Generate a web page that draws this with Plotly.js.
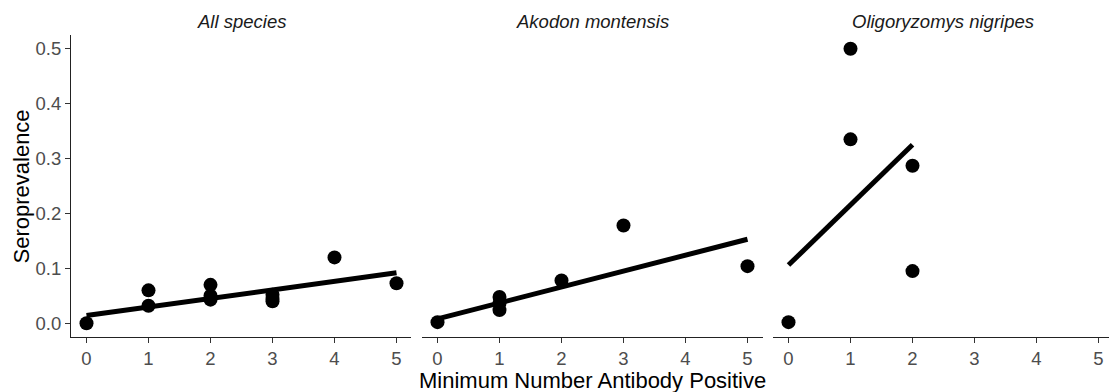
<!DOCTYPE html>
<html>
<head>
<meta charset="utf-8">
<script src="https://cdn.plot.ly/plotly-3.0.1.min.js"></script>
<style>
  html, body { margin: 0; padding: 0; background: #ffffff; }
  #chart { width: 1109px; height: 392px; }
</style>
</head>
<body>
<div id="chart"></div>
<script>
// Facet labels
const panelNames = ["All species", "Akodon montensis", "Oligoryzomys nigripes"];

// All species: observed seroprevalence by minimum antibody-positive count
const allX = [0, 1, 1, 2, 2, 2, 3, 3, 3, 4, 5];
const allY = [0.000, 0.060, 0.032, 0.070, 0.050, 0.043, 0.052, 0.046, 0.040, 0.120, 0.073];
const allFitX = [0, 5];
const allFitY = [0.014, 0.092];

// Akodon montensis
const akoX = [0, 1, 1, 1, 2, 3, 5];
const akoY = [0.002, 0.048, 0.036, 0.024, 0.078, 0.178, 0.104];
const akoFitX = [0, 5];
const akoFitY = [0.008, 0.153];

// Oligoryzomys nigripes
const oliX = [0, 1, 1, 2, 2];
const oliY = [0.002, 0.500, 0.335, 0.287, 0.095];
const oliFitX = [0, 2];
const oliFitY = [0.106, 0.325];

const xTicks = [0, 1, 2, 3, 4, 5];
const yTicks = [0.0, 0.1, 0.2, 0.3, 0.4, 0.5];

const W = 1109, H = 392;
const FONT = "Liberation Sans, Arial, sans-serif";

const series = [
  {x: allX, y: allY, fx: allFitX, fy: allFitY},
  {x: akoX, y: akoY, fx: akoFitX, fy: akoFitY},
  {x: oliX, y: oliY, fx: oliFitX, fy: oliFitY}
];

const traces = [];
series.forEach((s, i) => {
  const xa = i === 0 ? "x" : "x" + (i + 1);
  const ya = i === 0 ? "y" : "y" + (i + 1);
  traces.push({
    type: "scatter", mode: "markers", x: s.x, y: s.y, xaxis: xa, yaxis: ya,
    marker: {color: "#000000", size: 14}, hoverinfo: "x+y", showlegend: false
  });
  traces.push({
    type: "scatter", mode: "lines", x: s.fx, y: s.fy, xaxis: xa, yaxis: ya,
    line: {color: "#000000", width: 5}, hoverinfo: "skip", showlegend: false
  });
});

// Panel extents in pixels
const panels = [[71, 411], [422, 763], [773, 1109]];
const pxPerUnit = 62;
const yDom = [(H - 337) / H, (H - 35) / H];

function xAxis(i) {
  const [l, r] = panels[i];
  const lo = -0.25;
  const hi = lo + (r - l) / pxPerUnit;
  return {
    domain: [l / W, r / W], range: [lo, hi], anchor: i === 0 ? "y" : "y" + (i + 1),
    tickvals: xTicks, ticktext: xTicks.map(String),
    showgrid: false, zeroline: false, showline: true, linecolor: "#222222", linewidth: 1,
    ticks: "outside", ticklen: 5, tickwidth: 1, tickcolor: "#333333",
    tickfont: {family: FONT, size: 18.5, color: "#4d4d4d"}, fixedrange: true
  };
}

function yAxis(i) {
  const ax = {
    domain: yDom, range: [-0.025, 0.525], anchor: i === 0 ? "x" : "x" + (i + 1),
    showgrid: false, zeroline: false, fixedrange: true
  };
  if (i === 0) {
    Object.assign(ax, {
      tickvals: yTicks, ticktext: yTicks.map(v => v.toFixed(1)),
      showline: true, linecolor: "#222222", linewidth: 1,
      ticks: "outside", ticklen: 5, tickwidth: 1, tickcolor: "#333333",
      tickfont: {family: FONT, size: 18.5, color: "#4d4d4d"}
    });
  } else {
    Object.assign(ax, {showline: false, showticklabels: false, ticks: "", matches: "y"});
  }
  return ax;
}

const annotations = panelNames.map((name, i) => ({
  text: "<i>" + name + "</i>", xref: "paper", yref: "paper",
  x: (panels[i][0] + (i === 2 ? 1113 : panels[i][1])) / 2 / W, y: (H - 21) / H,
  xanchor: "center", yanchor: "middle", showarrow: false,
  font: {family: FONT, size: 18.5, color: "#1a1a1a"}
}));
annotations.push({
  text: "Seroprevalence", xref: "paper", yref: "paper",
  x: 20.5 / W, y: (H - 187) / H, textangle: -90,
  xanchor: "center", yanchor: "middle", showarrow: false,
  font: {family: FONT, size: 22, color: "#000000"}
});
annotations.push({
  text: "Minimum Number Antibody Positive", xref: "paper", yref: "paper",
  x: 592 / W, y: (H - 380) / H,
  xanchor: "center", yanchor: "middle", showarrow: false,
  font: {family: FONT, size: 22, color: "#000000"}
});

const layout = {
  width: W, height: H,
  margin: {l: 0, r: 0, t: 0, b: 0},
  paper_bgcolor: "#ffffff", plot_bgcolor: "#ffffff",
  font: {family: FONT},
  xaxis: xAxis(0), xaxis2: xAxis(1), xaxis3: xAxis(2),
  yaxis: yAxis(0), yaxis2: yAxis(1), yaxis3: yAxis(2),
  annotations: annotations,
  showlegend: false
};

Plotly.newPlot("chart", traces, layout, {displayModeBar: false, staticPlot: true});
</script>
</body>
</html>
